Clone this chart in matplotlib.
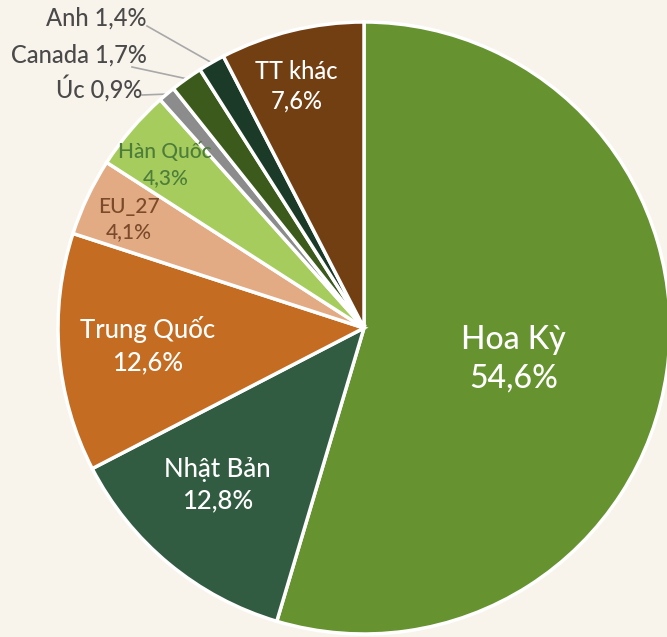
import matplotlib
matplotlib.use("Agg")
import matplotlib.pyplot as plt
import numpy as np

plt.rcParams['font.family'] = ['Lato', 'Open Sans', 'DejaVu Sans']

# thi truong xuat khau (%)
nuoc = ["Hoa Kỳ", "Nhật Bản", "Trung Quốc", "EU_27", "Hàn Quốc", "Úc", "Canada", "Anh", "TT khác"]
ty_le = [54.6, 12.8, 12.6, 4.1, 4.3, 0.9, 1.7, 1.4, 7.6]
mau = ["#66922f", "#325c41", "#c46c21", "#e2ab84", "#a6cc5e",
       "#8c8c8c", "#3b5a1b", "#1c3a28", "#723f13"]

# nhan ben trong: (ban kinh, lech x/y pixel, co chu, mau chu)
nhan_trong = {
    "Hoa Kỳ": (0.50, (-2, 9), 23, "white"),
    "Nhật Bản": (0.70, (-10, -8), 18.5, "white"),
    "Trung Quốc": (0.71, (0, 0), 18.5, "white"),
    "EU_27": (0.85, (0, 3), 15, "#7a4a2a"),
    "Hàn Quốc": (0.85, (-1, 6), 15, "#4d7d3a"),
    "TT khác": (0.82, (-8, 2), 17, "white"),
}
# nhan ben ngoai: vi tri chu (pixel), diem dau duong dan (pixel)
nhan_ngoai = {
    "Anh": ((147, 18), (147, 26)),
    "Canada": ((147, 55), (132, 67)),
    "Úc": ((142, 88), (142, 95)),
}

W, H = 667, 637
cx, cy, R = 364, 328, 306
nen = "#f8f4ec"


def px(x, y):
    return (x - cx) / R, (cy - y) / R


fig = plt.figure(figsize=(W / 100, H / 100), dpi=100)
fig.patch.set_facecolor(nen)
ax = fig.add_axes([0, 0, 1, 1])
ax.set_facecolor(nen)

wedges, _ = ax.pie(ty_le, colors=mau, startangle=90, counterclock=False, radius=1,
                   wedgeprops=dict(edgecolor="white", linewidth=2.5))

for w, ten, v in zip(wedges, nuoc, ty_le):
    goc = np.deg2rad((w.theta1 + w.theta2) / 2)
    so = f"{v:.1f}".replace(".", ",") + "%"
    if ten in nhan_trong:
        r, (dx, dy), size, c = nhan_trong[ten]
        ax.text(r * np.cos(goc) + dx / R, r * np.sin(goc) - dy / R, ten + "\n" + so,
                ha="center", va="center", fontsize=size, color=c, linespacing=1.35,
                fontweight="medium")
    else:
        (tx, ty), (lx, ly) = nhan_ngoai[ten]
        ax.text(*px(tx, ty), ten + " " + so, ha="right", va="center", fontsize=17,
                color="#4a4a4a", fontweight="medium")
        x0, y0 = px(lx, ly)
        ax.plot([x0, 1.0 * np.cos(goc)], [y0, 1.0 * np.sin(goc)], color="#a8a8a8", lw=1.2, zorder=0)

ax.set_xlim(-cx / R, (W - cx) / R)
ax.set_ylim(-(H - cy) / R, cy / R)
ax.set_aspect("auto")
ax.axis("off")

fig.savefig("out.png", dpi=100, facecolor=fig.get_facecolor())
